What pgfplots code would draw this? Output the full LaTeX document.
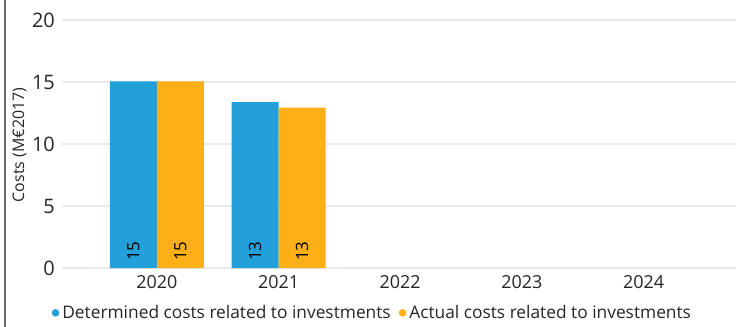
\documentclass[border=0pt]{standalone}
\usepackage{fontspec}
\setmainfont{Open Sans}
\usepackage{pgfplots}
\pgfplotsset{compat=1.18}
\definecolor{detblue}{RGB}{35,159,218}
\definecolor{actorange}{RGB}{252,175,22}
\definecolor{gridgray}{RGB}{234,234,234}
\definecolor{bordergray}{RGB}{105,105,105}
\begin{document}
\begin{tikzpicture}
\useasboundingbox (0,0) rectangle (736bp,327bp);
\fill[white] (0,0) rectangle (736bp,327bp);
\draw[bordergray, line width=2bp] (5bp,0) -- (5bp,327bp);
\begin{axis}[
  at={(62bp,59bp)}, anchor=south west,
  scale only axis, width=674bp, height=248bp,
  xmin=-0.78, xmax=4.76, ymin=0, ymax=20,
  xtick={0,1,2,3,4},
  xticklabels={2020,2021,2022,2023,2024},
  ytick={0,5,10,15,20},
  axis line style={draw=none},
  major tick length=0pt,
  ymajorgrids, grid style={gridgray, line width=1.5bp},
  /pgf/number format/assume math mode=true,
  yticklabel style={font=\fontsize{20}{22}\selectfont, color=black!85, inner sep=0pt, anchor=east, xshift=-7bp},
  xticklabel style={font=\fontsize{18}{20}\selectfont, color=black!85, inner sep=0pt, anchor=north, yshift=-7bp},
  ylabel={Costs (M€2017)},
  every axis y label/.style={at={(axis description cs:-0.063,0.496)}, rotate=90, anchor=center, font=\fontsize{16}{18}\selectfont, color=black!85},
  legend columns=2,
  legend style={at={(axis description cs:-0.0155,-0.181)}, anchor=west, draw=none, fill=none, inner sep=0pt,
    font=\fontsize{17.4}{19}\selectfont, text=black!85,
    nodes={inner sep=0pt},
    /tikz/every odd column/.append style={column sep=0bp},
    /tikz/every even column/.append style={column sep=8bp}},
  dotlegend/.style={legend image code/.code={\fill (3.8bp,0bp) circle (3.8bp);}},
  clip=false,
]
\addplot[ybar, bar width=47bp, bar shift=-23.5bp, fill=detblue, draw=none, dotlegend]
  coordinates {(0,15.05) (1,13.38)};
\addlegendentry{\hspace{3bp}Determined costs related to investments}
\addplot[ybar, bar width=47bp, bar shift=23.5bp, fill=actorange, draw=none, dotlegend]
  coordinates {(0,15.05) (1,12.94)};
\addlegendentry{\hspace{3bp}Actual costs related to investments}
\addplot[forget plot, only marks, mark=none, point meta=explicit symbolic, nodes near coords,
  every node near coord/.append style={xshift=-23.5bp, rotate=90, anchor=west, inner xsep=7bp, inner ysep=0pt, font=\fontsize{17}{18}\selectfont, color=black}]
  coordinates {(0,0) [15] (1,0) [13]};
\addplot[forget plot, only marks, mark=none, point meta=explicit symbolic, nodes near coords,
  every node near coord/.append style={xshift=23.5bp, rotate=90, anchor=west, inner xsep=7bp, inner ysep=0pt, font=\fontsize{17}{18}\selectfont, color=black}]
  coordinates {(0,0) [15] (1,0) [13]};
\end{axis}
\end{tikzpicture}
\end{document}
